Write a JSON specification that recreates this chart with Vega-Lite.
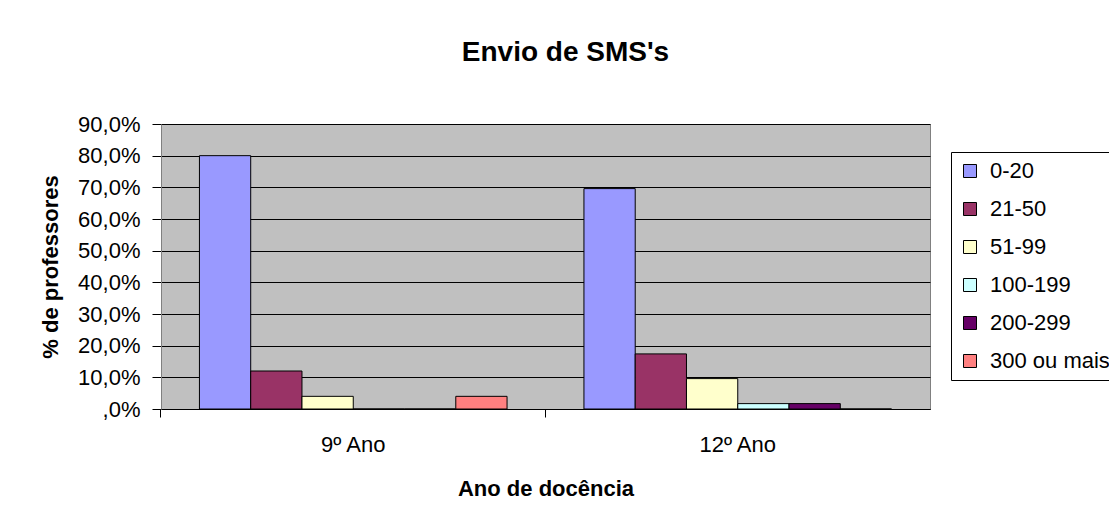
{
  "$schema": "https://vega.github.io/schema/vega-lite/v6.json",
  "width": 769,
  "height": 285,
  "autosize": {"type": "none"},
  "padding": {"left": 161, "top": 124, "right": 179, "bottom": 110},
  "background": "white",
  "title": {
    "text": "Envio de SMS's",
    "font": "Liberation Sans",
    "fontSize": 28,
    "fontWeight": "bold",
    "color": "black",
    "anchor": "middle",
    "dx": 20,
    "offset": 46
  },
  "config": {
    "view": {"fill": "#C0C0C0", "stroke": "#808080", "strokeWidth": 1},
    "font": "Liberation Sans"
  },
  "data": {
    "values": [
      {"ano": "9º Ano", "sms": "0-20", "pct": 80},
      {"ano": "9º Ano", "sms": "21-50", "pct": 12},
      {"ano": "9º Ano", "sms": "51-99", "pct": 4},
      {"ano": "9º Ano", "sms": "100-199", "pct": 0},
      {"ano": "9º Ano", "sms": "200-299", "pct": 0},
      {"ano": "9º Ano", "sms": "300 ou mais", "pct": 4},
      {"ano": "12º Ano", "sms": "0-20", "pct": 69.6},
      {"ano": "12º Ano", "sms": "21-50", "pct": 17.4},
      {"ano": "12º Ano", "sms": "51-99", "pct": 9.6},
      {"ano": "12º Ano", "sms": "100-199", "pct": 1.7},
      {"ano": "12º Ano", "sms": "200-299", "pct": 1.7},
      {"ano": "12º Ano", "sms": "300 ou mais", "pct": 0}
    ]
  },
  "mark": {"type": "bar", "stroke": "black", "strokeWidth": 1},
  "encoding": {
    "x": {
      "field": "ano",
      "type": "nominal",
      "sort": ["9º Ano", "12º Ano"],
      "scale": {"paddingInner": 0.2, "paddingOuter": 0.1},
      "axis": {
        "title": "Ano de docência",
        "titleFont": "Liberation Sans",
        "titleFontSize": 22,
        "titleFontWeight": "bold",
        "titleColor": "black",
        "titlePadding": 23,
        "labelAngle": 0,
        "labelFont": "Liberation Sans",
        "labelFontSize": 22,
        "labelColor": "black",
        "labelPadding": 17,
        "bandPosition": -0.125,
        "ticks": true,
        "tickSize": 8,
        "tickColor": "black",
        "domainColor": "black",
        "domainWidth": 1,
        "grid": false
      }
    },
    "xOffset": {
      "field": "sms",
      "type": "nominal",
      "scale": {"domain": ["0-20", "21-50", "51-99", "100-199", "200-299", "300 ou mais"], "paddingInner": 0, "paddingOuter": 0}
    },
    "y": {
      "field": "pct",
      "type": "quantitative",
      "scale": {"domain": [0, 90], "nice": false},
      "axis": {
        "title": "% de professores",
        "titleFont": "Liberation Sans",
        "titleFontSize": 22,
        "titleFontWeight": "bold",
        "titleColor": "black",
        "titlePadding": 15,
        "values": [0, 10, 20, 30, 40, 50, 60, 70, 80, 90],
        "labelExpr": "datum.value == 0 ? ',0%' : replace(format(datum.value, '.1f'), '.', ',') + '%'",
        "labelFont": "Liberation Sans",
        "labelFontSize": 22,
        "labelColor": "black",
        "labelPadding": 12,
        "tickSize": 9,
        "tickColor": "black",
        "domainColor": "#808080",
        "grid": true,
        "gridColor": "black",
        "gridWidth": 1,
        "gridOpacity": 1
      }
    },
    "color": {
      "field": "sms",
      "type": "nominal",
      "scale": {
        "domain": ["0-20", "21-50", "51-99", "100-199", "200-299", "300 ou mais"],
        "range": ["#9999FF", "#993366", "#FFFFCC", "#CCFFFF", "#660066", "#FF8080"]
      },
      "legend": {
        "title": null,
        "orient": "none",
        "legendX": 790,
        "legendY": 28,
        "direction": "vertical",
        "strokeColor": "black",
        "fillColor": "white",
        "padding": 8,
        "symbolType": "square",
        "symbolSize": 169,
        "symbolStrokeColor": "black",
        "symbolStrokeWidth": 1,
        "symbolOpacity": 1,
        "labelFont": "Liberation Sans",
        "labelFontSize": 22,
        "labelColor": "black",
        "labelOffset": 9,
        "rowPadding": 16,
        "labelLimit": 300
      }
    }
  }
}
